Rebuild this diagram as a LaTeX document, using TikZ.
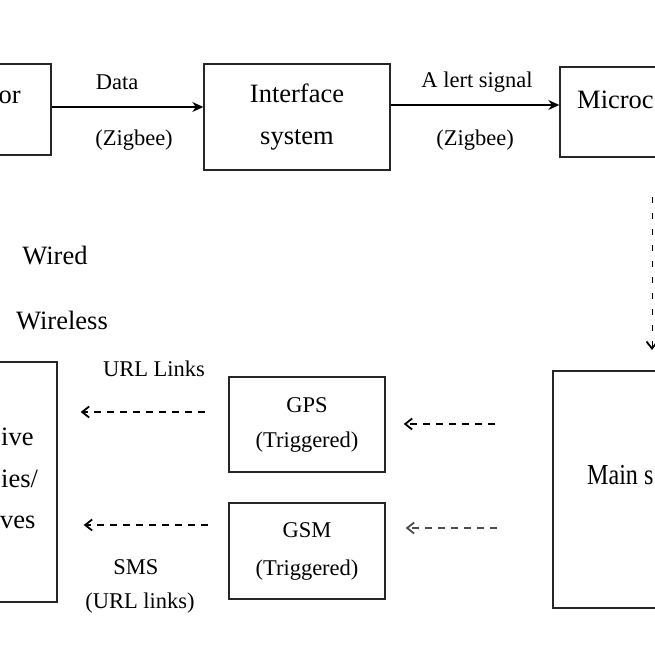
\documentclass[tikz,border=0pt]{standalone}
\usepackage{fontspec}
\setmainfont{Liberation Serif}
\usetikzlibrary{arrows.meta}
\begin{document}
\begin{tikzpicture}[x=1pt,y=-1pt,
  box/.style={draw=black!85,line width=1.4pt,rectangle,inner sep=0pt},
  lbl/.style={inner sep=0pt,font=\fontsize{22.5}{26}\selectfont},
  big/.style={inner sep=0pt,font=\fontsize{26.5}{30}\selectfont},
  solidarr/.style={line width=1.3pt,-{Stealth[length=11pt,width=10pt]}},
  dasharr/.style={line width=1.2pt,dash pattern=on 7pt off 6pt,-{Straight Barb[length=7pt,width=11pt,line width=1.8pt]}}
]
\useasboundingbox (0,0) rectangle (655,655);
\clip (0,0) rectangle (655,655);
% boxes
\node[box,minimum width=151pt,minimum height=91pt] (sensor) at (-24.5,109.5) {};
\node[box,minimum width=186pt,minimum height=106pt,align=center,font=\fontsize{26.5}{42}\selectfont] (iface) at (297,117) {Interface\\system};
\node[box,minimum width=200pt,minimum height=90pt] (micro) at (660,112) {};
\node[box,minimum width=207pt,minimum height=237pt] (main) at (656.5,489.5) {};
\node[box,minimum width=156pt,minimum height=95pt,align=center,font=\fontsize{22.5}{35}\selectfont] (gps) at (307,424.5) {GPS\\(Triggered)};
\node[box,minimum width=156pt,minimum height=96pt,align=center,font=\fontsize{22.5}{38}\selectfont] (gsm) at (307,551) {GSM\\(Triggered)};
\node[box,minimum width=157pt,minimum height=240pt] (dest) at (-21.5,482) {};
% partial texts
\node[big,anchor=east] (tor) at (21,97) {or};
\node[big,anchor=west] (tmicro) at (577,100) {Microc};
\node[big,anchor=west,font=\fontsize{29}{30}\selectfont,xscale=0.83] (tmain) at (587,475) {Main s};
\node[big,anchor=west] (tive) at (1,437) {ive};
\node[big,anchor=west] (ties) at (1,479) {ies/};
\node[big,anchor=west] (tves) at (0,522) {ves};
\node[big] (wired) at (55,256) {Wired};
\node[big] (wireless) at (62,321) {Wireless};
% labels
\node[lbl] (ldata) at (117,82) {Data};
\node[lbl] (lzig1) at (134,140) {(Zigbee)};
\node[lbl] (lalert) at (477,82) {A lert signal};
\node[lbl] (lzig2) at (475,140) {(Zigbee)};
\node[lbl] (lurl) at (154,369) {URL Links};
\node[lbl] (lsms) at (136,567) {SMS};
\node[lbl] (lurl2) at (140,603) {(URL links)};
% solid arrows
\draw[solidarr] ([yshift=2.5pt]sensor.east) -- ([yshift=2.5pt]sensor.east -| iface.west);
\draw[solidarr] ([yshift=12pt]iface.east) -- ([yshift=12pt]iface.east -| micro.west);
% dashed arrows
\coordinate (vtop) at (652,197);
\coordinate (vbot) at (652,350);
\draw[dasharr,line width=1pt,dash pattern=on 6pt off 10pt] (vtop) -- (vbot);
\coordinate (g1s) at (495,424);
\draw[dasharr] (g1s) -- ([xshift=18pt]g1s -| gps.east);
\coordinate (g2s) at (497,528);
\draw[dasharr,draw=black!70] (g2s) -- ([xshift=20pt]g2s -| gsm.east);
\coordinate (l1s) at (205,412);
\draw[dasharr] (l1s) -- ([xshift=23pt]l1s -| dest.east);
\coordinate (l2s) at (208,525);
\draw[dasharr] (l2s) -- ([xshift=26pt]l2s -| dest.east);
\end{tikzpicture}
\end{document}
